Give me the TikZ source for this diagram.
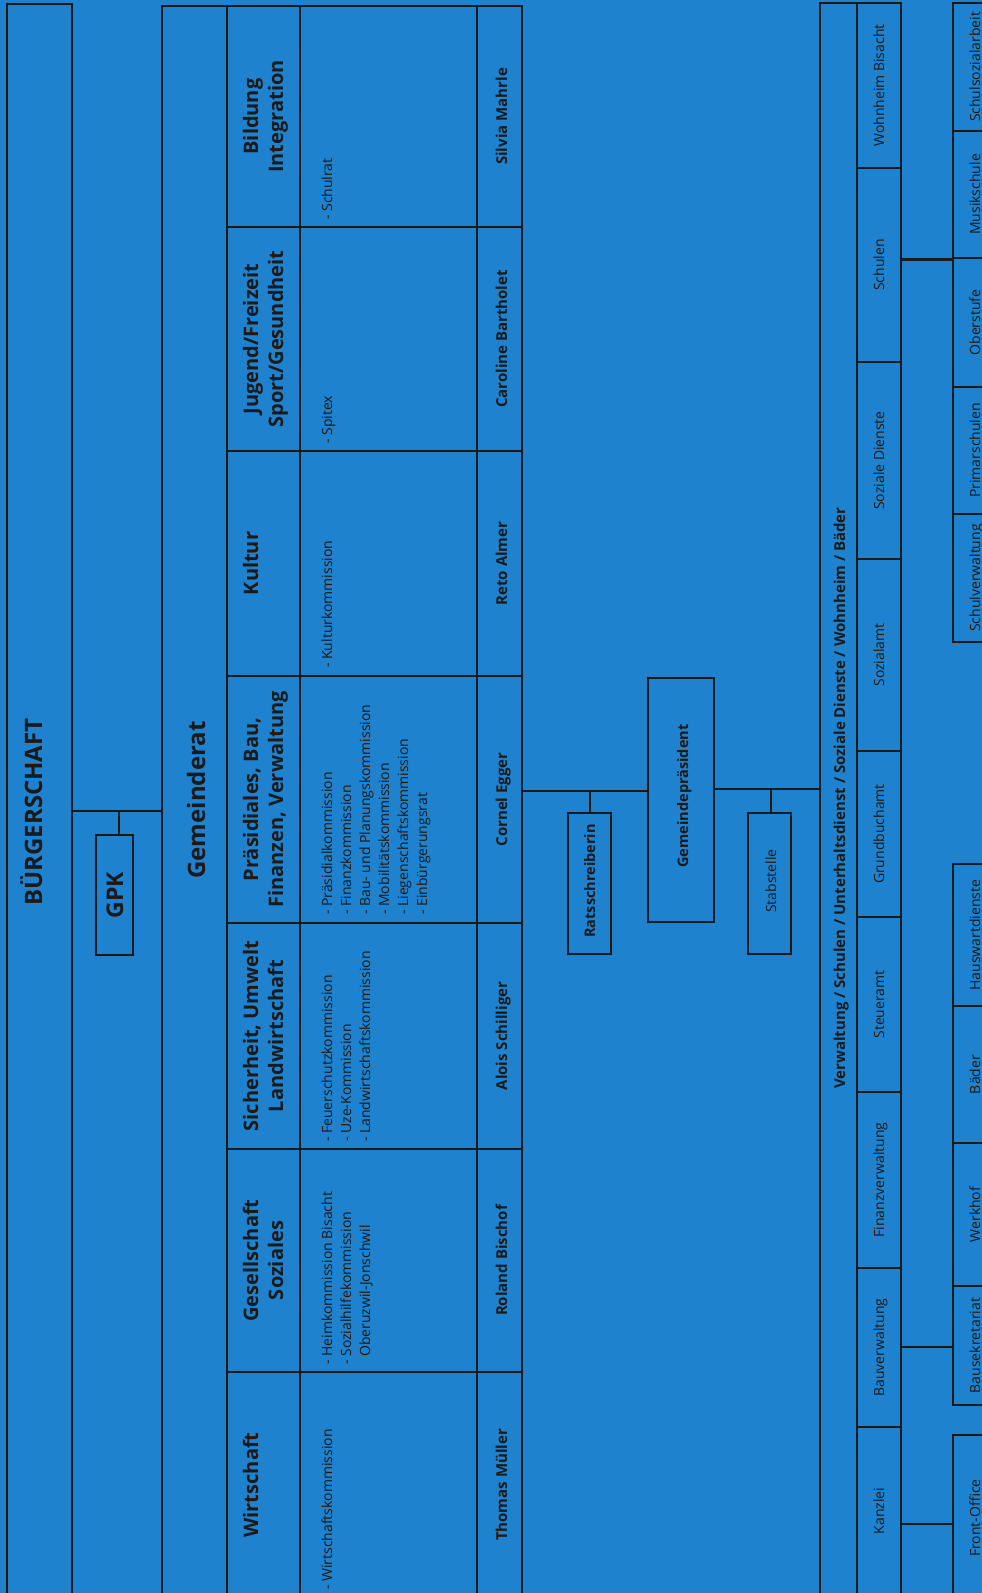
\documentclass[tikz,border=0pt]{standalone}
\usepackage{fontspec}
\setmainfont{Open Sans}
\usetikzlibrary{fit}
\definecolor{bg}{HTML}{1E82CE}
\definecolor{ink}{HTML}{1A1A1A}
\tikzset{
  ln/.style={draw=ink, line width=2.9pt},
  thinln/.style={draw=ink, line width=1.2pt},
  box/.style={ln, inner sep=0pt, rectangle},
  rt/.style={rotate=90, inner sep=0pt, text=ink},
  bigt/.style={rt, font=\bfseries\fontsize{24}{28}\selectfont, anchor=base},
  headt/.style={rt, font=\bfseries\fontsize{20}{25}\selectfont, anchor=base},
  persont/.style={rt, font=\bfseries\fontsize{15}{18}\selectfont, anchor=base},
  commt/.style={rt, font=\fontsize{14}{19}\selectfont, anchor=base west},
  unitt/.style={rt, font=\fontsize{14}{17}\selectfont, anchor=base},
  staffb/.style={rt, font=\bfseries\fontsize{14.5}{17}\selectfont, anchor=base},
}
\begin{document}
\begin{tikzpicture}[x=1pt,y=-1pt]
\useasboundingbox (0,0) rectangle (982,1593);
\fill[bg] (0,0) rectangle (982,1593);
\clip (0,0) rectangle (982,1593);

% Buergerschaft
\node[box, fit={(7,4) (72,1612)}] (buerger) {};
\node[bigt] (buergerT) at (42,812) {BÜRGERSCHAFT};

% Gemeinderat table
\node[box, fit={(162,6) (522,1612)}] (gr) {};
\node[bigt] (grT) at (205,800) {Gemeinderat};
\draw[ln] (227,6) -- (227,1612);
\draw[ln] (300,6) -- (300,1612);
\draw[thinln] (477,6) -- (477,1612);
\foreach \yy in {227,451,676,923,1149,1372} \draw[ln] (227,\yy) -- (522,\yy);

% GPK
\node[box, fit={(96,835) (133,955)}] (gpk) {};
\node[rt, font=\bfseries\fontsize{23}{26}\selectfont, anchor=base] (gpkT) at (123,895) {GPK};
\coordinate (gpkj) at (119,811);
\draw[ln] (buerger.east |- gpkj) -- (gr.west |- gpkj);
\draw[ln] (gpkj) -- (gpkj |- gpk.north);

% headers
\node[headt] (h1a) at (258,116.5) {Bildung};
\node[headt] (h1b) at (283,116.5) {Integration};
\node[headt] (h2a) at (258,339) {Jugend/Freizeit};
\node[headt] (h2b) at (283,339) {Sport/Gesundheit};
\node[headt] (h3a) at (258,563.5) {Kultur};
\node[headt] (h4a) at (258,799.5) {Präsidiales, Bau,};
\node[headt] (h4b) at (283,799.5) {Finanzen, Verwaltung};
\node[headt] (h5a) at (258,1036) {Sicherheit, Umwelt};
\node[headt] (h5b) at (283,1036) {Landwirtschaft};
\node[headt] (h6a) at (258,1260.5) {Gesellschaft};
\node[headt] (h6b) at (283,1260.5) {Soziales};
\node[headt] (h7a) at (258,1485) {Wirtschaft};

% commissions
\node[commt] (c1) at (332,220) {- Schulrat};
\node[commt] (c2) at (332,444) {- Spitex};
\node[commt] (c3) at (332,668) {- Kulturkommission};
\node[commt] (c4a) at (332,915) {- Präsidialkommission};
\node[commt] (c4b) at (351,915) {- Finanzkommission};
\node[commt] (c4c) at (370,915) {- Bau- und Planungskommission};
\node[commt] (c4d) at (389,915) {- Mobilitätskommission};
\node[commt] (c4e) at (408,915) {- Liegenschaftskommission};
\node[commt] (c4f) at (427,915) {- Einbürgerungsrat};
\node[commt] (c5a) at (332,1142) {- Feuerschutzkommission};
\node[commt] (c5b) at (351,1142) {- Uze-Kommission};
\node[commt] (c5c) at (370,1142) {- Landwirtschaftskommission};
\node[commt] (c6a) at (332,1365) {- Heimkommission Bisacht};
\node[commt] (c6b) at (351,1365) {- Sozialhilfekommission};
\node[commt] (c6c) at (370,1365) {\phantom{- }Oberuzwil-Jonschwil};
\node[commt] (c7) at (332,1590) {- Wirtschaftskommission};

% persons
\node[persont] (p1) at (507,116.5) {Silvia Mahrle};
\node[persont] (p2) at (507,339) {Caroline Bartholet};
\node[persont] (p3) at (507,563.5) {Reto Almer};
\node[persont] (p4) at (507,799.5) {Cornel Egger};
\node[persont] (p5) at (507,1036) {Alois Schilliger};
\node[persont] (p6) at (507,1260.5) {Roland Bischof};
\node[persont] (p7) at (507,1485) {Thomas Müller};

% staff boxes
\node[box, fit={(568,813) (611,954)}] (rats) {};
\node[staffb] (ratsT) at (595,881) {Ratsschreiberin};
\node[box, fit={(648,678) (714,922)}] (gp) {};
\node[staffb] (gpT) at (688,796) {Gemeindepräsident};
\node[box, fit={(748,813) (791,954)}] (stab) {};
\node[unitt] (stabT) at (776,881) {Stabstelle};

% Verwaltung
\node[box, fit={(820,3) (901,1612)}] (verw) {};
\draw[ln] (857,3) -- (857,1612);
\node[rt, font=\bfseries\fontsize{15}{18}\selectfont, anchor=base] (verwT) at (845,798)
  {Verwaltung / Schulen / Unterhaltsdienst / Soziale Dienste / Wohnheim / Bäder};

\node[box, fit={(857,3) (901,168)}] (wohn) {};
\node[box, fit={(857,168) (901,362)}] (schulen) {};
\node[box, fit={(857,362) (901,559)}] (sozd) {};
\node[box, fit={(857,559) (901,751)}] (soza) {};
\node[box, fit={(857,751) (901,917)}] (grund) {};
\node[box, fit={(857,917) (901,1092)}] (steuer) {};
\node[box, fit={(857,1092) (901,1268)}] (finanz) {};
\node[box, fit={(857,1268) (901,1427)}] (bauv) {};
\node[box, fit={(857,1427) (901,1612)}] (kanzlei) {};
\node[unitt] at (884,85.5) (wohnT) {Wohnheim Bisacht};
\node[unitt] at (884,265) (schulenT) {Schulen};
\node[unitt] at (884,460.5) (sozdT) {Soziale Dienste};
\node[unitt] at (884,655) (sozaT) {Sozialamt};
\node[unitt] at (884,834) (grundT) {Grundbuchamt};
\node[unitt] at (884,1004.5) (steuerT) {Steueramt};
\node[unitt] at (884,1180) (finanzT) {Finanzverwaltung};
\node[unitt] at (884,1347.5) (bauvT) {Bauverwaltung};
\node[unitt] at (884,1511) (kanzleiT) {Kanzlei};

% right column
\node[box, fit={(953,3) (997,131)}] (ssa) {};
\node[box, fit={(953,131) (997,258)}] (musik) {};
\node[box, fit={(953,258) (997,387)}] (ober) {};
\node[box, fit={(953,387) (997,514)}] (prim) {};
\node[box, fit={(953,514) (997,642)}] (sv) {};
\node[box, fit={(953,864) (997,1006)}] (haus) {};
\node[box, fit={(953,1006) (997,1143)}] (baeder) {};
\node[box, fit={(953,1143) (997,1286)}] (werk) {};
\node[box, fit={(953,1286) (997,1405)}] (bsek) {};
\node[box, fit={(953,1435) (997,1612)}] (front) {};
\node[unitt] at (980,67) (ssaT) {Schulsozialarbeit};
\node[unitt] at (980,194.5) (musikT) {Musikschule};
\node[unitt] at (980,322.5) (oberT) {Oberstufe};
\node[unitt] at (980,450.5) (primT) {Primarschulen};
\node[unitt] at (980,578) (svT) {Schulverwaltung};
\node[unitt] at (980,935) (hausT) {Hauswartdienste};
\node[unitt] at (980,1074.5) (baederT) {Bäder};
\node[unitt] at (980,1214.5) (werkT) {Werkhof};
\node[unitt] at (980,1345.5) (bsekT) {Bausekretariat};
\node[unitt] at (980,1518) (frontT) {Front-Office};

% connectors
\coordinate (gpL) at (590,791);
\draw[ln] (gr.east |- gpL) -- (gp.west |- gpL);
\draw[ln] (gpL) -- (gpL |- rats.north);
\coordinate (gpR) at (771,789);
\draw[ln] (gp.east |- gpR) -- (verw.west |- gpR);
\draw[ln] (gpR) -- (gpR |- stab.north);
\draw[ln] (schulen.east |- musik.south) -- (musik.south west);
\coordinate (bj) at (901,1347);
\draw[ln] (bj) -- (bj -| bsek.west);
\coordinate (fj) at (901,1524);
\draw[ln] (fj) -- (fj -| front.west);
\end{tikzpicture}
\end{document}
